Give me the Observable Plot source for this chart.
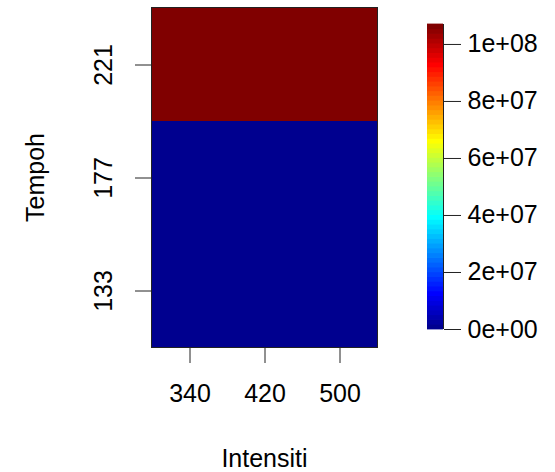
<!DOCTYPE html>
<html>
<head>
<meta charset="utf-8">
<script src="https://cdn.jsdelivr.net/npm/d3@7"></script>
<script src="https://cdn.jsdelivr.net/npm/@observablehq/plot@0.6"></script>
<style>
  html, body { margin: 0; padding: 0; background: white; }
  #wrap { position: relative; width: 555px; height: 472px; }
</style>
</head>
<body>
<div id="wrap"></div>
<script>
// ---- data ----
const intensiti = [340, 420, 500];
const tempoh = [133, 177, 221];
const row133 = [0, 0, 0];
const row177 = [0, 0, 0];
const row221 = [1.07e8, 1.07e8, 1.07e8];
const legendTicks = [0, 2e7, 4e7, 6e7, 8e7, 1e8];

const rows = [row133, row177, row221];
const cells = [];
tempoh.forEach((t, i) => intensiti.forEach((x, j) => cells.push({intensiti: x, tempoh: t, value: rows[i][j]})));
const [zmin, zmax] = d3.extent(cells, d => d.value);

// jet-like palette (tim.colors)
const jetStops = [0, 7/63, 23/63, 39/63, 55/63, 1];
const jetColors = ["#00008F", "#0000FF", "#00FFFF", "#FFFF00", "#FF0000", "#800000"];
const colorOpts = {type: "linear", domain: jetStops.map(t => zmin + t * (zmax - zmin)), range: jetColors, interpolate: "rgb"};

const fmt = d => {
  const [m, e] = d.toExponential(0).split("e");
  return m + "e" + e[0] + e.slice(1).padStart(2, "0");
};

const W = 555, H = 472;
const font = "'Liberation Sans', Arial, Helvetica, sans-serif";

const main = Plot.plot({
  width: W, height: H,
  marginLeft: 151, marginRight: 178, marginTop: 7, marginBottom: 125,
  style: {fontFamily: font, fontSize: "25px", color: "#000", background: "white"},
  x: {type: "band", domain: intensiti, padding: 0, axis: null},
  y: {type: "band", domain: [...tempoh].reverse(), padding: 0, axis: null},
  color: colorOpts,
  marks: [
    Plot.cell(cells, {x: "intensiti", y: "tempoh", fill: "value", inset: 0}),
    Plot.frame({stroke: "#222"}),
    Plot.axisX({tickSize: 16, tickPadding: 21, label: null, stroke: "#222", fill: "#000"}),
    Plot.axisY({tickSize: 16, fill: "none", stroke: "#222", label: null}),
    Plot.text(tempoh, {y: d => d, text: d => String(d), frameAnchor: "left", dx: -40, rotate: -90,
      textAnchor: "middle", lineAnchor: "bottom", fill: "#000"}),
    Plot.text(["Tempoh"], {text: d => d, frameAnchor: "left", dx: -108, rotate: -90,
      textAnchor: "middle", lineAnchor: "bottom", fill: "#000"}),
    Plot.text(["Intensiti"], {text: d => d, frameAnchor: "bottom", dy: 119,
      textAnchor: "middle", lineAnchor: "bottom", fill: "#000"})
  ]
});

const N = 64;
const steps = d3.range(N).map(i => ({
  y1: zmin + i * (zmax - zmin) / N,
  y2: zmin + (i + 1) * (zmax - zmin) / N,
  c: zmin + i * (zmax - zmin) / (N - 1)
}));

const bar = Plot.plot({
  width: W, height: H,
  marginLeft: 427, marginRight: 112, marginTop: 24, marginBottom: H - 329,
  style: {fontFamily: font, fontSize: "25px", color: "#000", background: "transparent",
    position: "absolute", top: "0px", left: "0px"},
  x: {domain: [0, 1], axis: null},
  y: {domain: [zmin, zmax], axis: null},
  color: colorOpts,
  marks: [
    Plot.rect(steps, {x1: 0, x2: 1, y1: "y1", y2: "y2", fill: "c", insetTop: -0.4, insetBottom: -0.4}),
    Plot.ruleX([1], {stroke: "#222"}),
    Plot.axisY({anchor: "right", ticks: legendTicks, tickFormat: fmt, tickSize: 17, tickPadding: 7,
      label: null, stroke: "#222", fill: "#000"})
  ]
});

const wrap = document.getElementById("wrap");
wrap.appendChild(main);
wrap.appendChild(bar);
</script>
</body>
</html>
